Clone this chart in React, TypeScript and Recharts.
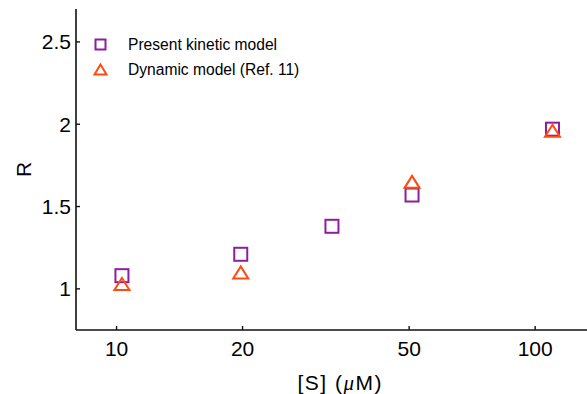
import React from 'react';
import { ScatterChart, Scatter, XAxis, YAxis, Legend } from 'recharts';

const S_KINETIC = [10.3, 19.8, 32.7, 50.8, 110];
const R_KINETIC = [1.08, 1.21, 1.38, 1.57, 1.97];
const S_DYNAMIC = [10.3, 19.8, 50.8, 110];
const R_DYNAMIC = [1.03, 1.1, 1.65, 1.96];
const X_TICKS = [10, 20, 50, 100];
const Y_TICKS = [1, 1.5, 2, 2.5];
const SERIES_NAMES = ['Present kinetic model', 'Dynamic model (Ref. 11)'];

const PURPLE = '#8c1f9c';
const ORANGE = '#ff4a12';
const FONT = '"Liberation Sans", Arial, sans-serif';
const INK = '#000';

const kinetic = S_KINETIC.map((s, i) => ({ s, r: R_KINETIC[i] }));
const dynamic = S_DYNAMIC.map((s, i) => ({ s, r: R_DYNAMIC[i] }));

const SquareShape = (props: any) => {
  const { cx, cy } = props;
  const h = 6.5;
  return <rect x={cx - h} y={cy - h} width={2 * h} height={2 * h} fill="none" stroke={PURPLE} strokeWidth={2} />;
};

const TriangleShape = (props: any) => {
  const { cx, cy } = props;
  const w = 7.5;
  const h = 6;
  return (
    <path
      d={`M${cx},${cy - h}L${cx + w},${cy + h}L${cx - w},${cy + h}Z`}
      fill="none"
      stroke={ORANGE}
      strokeWidth={2}
      strokeLinejoin="miter"
    />
  );
};

const LegendContent = () => (
  <div style={{ fontFamily: FONT, fontSize: 15.6, color: INK, lineHeight: '25px' }}>
    <div style={{ display: 'flex', alignItems: 'center', height: 25 }}>
      <svg width={40} height={25} style={{ display: 'block', flex: 'none' }}>
        <rect x={7.5} y={7.5} width={10} height={10} fill="none" stroke={PURPLE} strokeWidth={2} />
      </svg>
      <span style={{ whiteSpace: 'nowrap' }}>{SERIES_NAMES[0]}</span>
    </div>
    <div style={{ display: 'flex', alignItems: 'center', height: 25 }}>
      <svg width={40} height={25} style={{ display: 'block', flex: 'none' }}>
        <path d="M12.5,7.5L18.5,17.5L6.5,17.5Z" fill="none" stroke={ORANGE} strokeWidth={2} />
      </svg>
      <span style={{ whiteSpace: 'nowrap' }}>{SERIES_NAMES[1]}</span>
    </div>
  </div>
);

const XLabel = (props: any) => {
  const vb = props.viewBox || { x: 76, y: 330, width: 511, height: 64 };
  const cx = vb.x + vb.width / 2 + 8;
  return (
    <text
      x={cx}
      y={vb.y + 60}
      textAnchor="middle"
      fontSize={21}
      fontFamily={FONT}
      fill={INK}
      textLength={84}
      lengthAdjust="spacing"
    >
      <tspan>[S] (</tspan>
      <tspan fontFamily='"Liberation Serif", "DejaVu Serif", serif' fontStyle="italic">μ</tspan>
      <tspan>M)</tspan>
    </text>
  );
};

export default function App() {
  const axisLine = { stroke: '#111', strokeWidth: 1.6 };
  const tickStyle = { fontSize: 21, fontFamily: FONT, fill: INK };
  return (
    <div style={{ position: 'fixed', left: 0, top: 0, width: 587, height: 394, background: '#fff' }}>
      <ScatterChart width={587} height={394} margin={{ top: 9, right: 0, bottom: 0, left: 0 }}>
        <XAxis
          dataKey="s"
          type="number"
          scale="log"
          domain={[8, 133]}
          ticks={X_TICKS}
          allowDataOverflow
          height={64}
          axisLine={axisLine}
          tickLine={{ stroke: '#111', strokeWidth: 1.4 }}
          tickSize={-4}
          tickMargin={14.8}
          tick={tickStyle}
          label={{ content: (p: any) => <XLabel {...p} /> }}
        />
        <XAxis
          xAxisId="top"
          orientation="top"
          type="number"
          scale="log"
          domain={[8, 133]}
          allowDataOverflow
          height={0}
          tick={false}
          tickLine={false}
          axisLine={axisLine}
        />
        <YAxis
          dataKey="r"
          type="number"
          domain={[0.75, 2.7]}
          ticks={Y_TICKS}
          allowDataOverflow
          width={76}
          axisLine={axisLine}
          tickLine={{ stroke: '#111', strokeWidth: 1.4 }}
          tickSize={-4}
          tickMargin={9}
          tick={tickStyle}
          tickFormatter={(v: number) => String(v)}
          label={{ value: 'R', angle: -90, position: 'center', dx: -14.5, style: { fontSize: 21, fontFamily: FONT, fill: INK } }}
        />
        <Legend
          layout="vertical"
          align="center"
          verticalAlign="middle"
          content={() => <LegendContent />}
          wrapperStyle={{ left: 88, top: 32, width: 280 }}
        />
        <Scatter name={SERIES_NAMES[0]} data={kinetic} shape={SquareShape} isAnimationActive={false} />
        <Scatter name={SERIES_NAMES[1]} data={dynamic} shape={TriangleShape} isAnimationActive={false} />
      </ScatterChart>
    </div>
  );
}
